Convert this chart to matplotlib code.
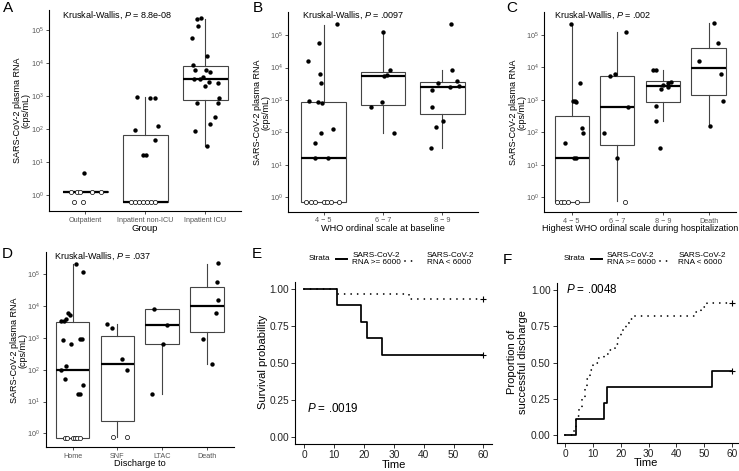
import numpy as np
import matplotlib
matplotlib.use('Agg')
import matplotlib.pyplot as plt
from matplotlib.lines import Line2D
from matplotlib.ticker import FixedLocator, NullLocator, LogFormatterSciNotation

plt.rcParams['font.family'] = ['Liberation Sans', 'DejaVu Sans']
plt.rcParams['mathtext.fontset'] = 'custom'
plt.rcParams['mathtext.rm'] = 'Liberation Sans'
plt.rcParams['mathtext.it'] = 'Liberation Sans:italic'
plt.rcParams['mathtext.bf'] = 'Liberation Sans:bold'

# ---------------- data (log10 cps/mL) ----------------
# panel A
a_cats = ['Outpatient', 'Inpatient non-ICU', 'Inpatient ICU']
a_q1 = [0.09, -0.20, 2.88]
a_med = [0.10, -0.20, 3.52]
a_q3 = [0.11, 1.82, 3.92]
a_lo = [0.09, -0.20, 1.50]
a_hi = [0.11, 2.96, 5.33]
a_grp = [0]*8 + [1]*15 + [2]*22
a_log = [0.10, 0.10, 0.10, 0.10, 0.10, -0.22, -0.22, 0.68,
         2.96, 2.93, 2.93, 1.97, 2.10, 1.67, 1.20, 1.20,
         -0.20, -0.20, -0.20, -0.20, -0.20, -0.20, -0.20,
         5.33, 5.35, 5.11, 4.76, 4.20, 3.93, 3.78, 3.80, 3.73, 3.51, 3.51,
         3.57, 3.31, 3.43, 3.39, 2.80, 2.95, 2.78, 2.35, 2.16, 1.95, 1.50]
a_und = [1, 1, 1, 1, 1, 1, 1, 0,
         0, 0, 0, 0, 0, 0, 0, 0,
         1, 1, 1, 1, 1, 1, 1] + [0]*22
a_jit = [-0.24, -0.13, -0.09, 0.11, 0.26, -0.18, -0.03, -0.02,
         -0.13, 0.09, 0.16, -0.17, 0.22, 0.16, -0.03, 0.01,
         -0.23, -0.17, -0.10, -0.03, 0.03, 0.10, 0.17,
         -0.13, -0.07, -0.12, -0.22, 0.04, -0.20, -0.16, 0.01, 0.09, -0.18, -0.09,
         -0.04, 0.00, 0.06, 0.22, -0.13, 0.24, 0.21, 0.17, 0.09, -0.16, 0.03]

# panel B
b_cats = ['4 \u2212 5', '6 \u2212 7', '8 \u2212 9']
b_q1 = [-0.15, 2.86, 2.58]
b_med = [1.20, 3.74, 3.39]
b_q3 = [2.95, 3.86, 3.56]
b_lo = [-0.15, 1.97, 1.51]
b_hi = [5.31, 5.10, 3.92]
b_grp = [0]*20 + [1]*7 + [2]*11
b_log = [5.33, 4.76, 4.21, 3.80, 3.53, 2.98, 2.94, 2.92, 2.11, 1.99, 1.68, 1.21, 1.21,
         -0.15, -0.15, -0.15, -0.15, -0.15, -0.15, -0.15,
         5.10, 3.93, 3.78, 3.73, 2.95, 2.79, 1.97,
         5.35, 3.92, 3.59, 3.52, 3.32, 3.41, 3.43, 2.80, 2.34, 2.18, 1.52]
b_und = [0]*13 + [1]*7 + [0]*7 + [0]*11
b_jit = [0.22, -0.08, -0.27, -0.06, -0.04, -0.24, -0.10, -0.03, 0.16, -0.05, -0.15, -0.14, 0.07,
         -0.30, -0.22, -0.14, 0.00, 0.06, 0.13, 0.26,
         0.00, 0.12, 0.06, 0.01, -0.02, -0.20, 0.18,
         0.14, 0.16, 0.25, -0.08, -0.18, 0.12, 0.28, -0.17, 0.01, -0.11, -0.20]

# panel C
c_cats = ['4 \u2212 5', '6 \u2212 7', '8 \u2212 9', 'Death']
c_q1 = [-0.15, 1.60, 2.93, 3.16]
c_med = [1.21, 2.79, 3.43, 3.99]
c_q3 = [2.51, 3.75, 3.57, 4.61]
c_lo = [-0.15, -0.13, 2.36, 2.18]
c_hi = [5.33, 5.10, 3.93, 5.36]
c_grp = [0]*15 + [1]*7 + [2]*10 + [3]*6
c_log = [5.33, 3.53, 2.97, 2.97, 2.93, 2.13, 1.99, 1.68, 1.21, 1.21,
         -0.15, -0.15, -0.15, -0.15, -0.15,
         5.10, 3.80, 3.74, 2.79, 1.97, 1.22, -0.15,
         3.93, 3.93, 3.56, 3.51, 3.45, 3.39, 3.32, 2.80, 2.35, 1.52,
         5.36, 4.76, 4.21, 3.81, 2.95, 2.18]
c_und = [0]*10 + [1]*5 + [0]*6 + [1] + [0]*16
c_jit = [-0.01, 0.19, 0.02, 0.07, 0.09, 0.22, 0.24, -0.15, 0.04, 0.09,
         -0.32, -0.24, -0.16, -0.07, 0.11,
         0.19, -0.06, -0.15, 0.23, -0.30, -0.01, 0.17,
         -0.21, -0.16, 0.17, 0.12, 0.00, 0.11, -0.04, -0.15, -0.15, -0.07,
         0.12, 0.20, -0.20, 0.27, 0.32, 0.02]

# panel D
d_cats = ['Home', 'SNF', 'LTAC', 'Death']
d_q1 = [-0.16, 0.39, 2.81, 3.17]
d_med = [2.00, 2.17, 3.40, 4.00]
d_q3 = [3.51, 3.07, 3.91, 4.61]
d_lo = [-0.16, -0.13, 1.23, 2.17]
d_hi = [5.31, 3.44, 3.92, 5.31]
d_grp = [0]*23 + [1]*6 + [2]*4 + [3]*6
d_log = [5.31, 5.08, 3.78, 3.72, 3.53, 3.53, 3.58, 2.92, 2.81, 2.98, 2.96, 2.13, 1.99,
         1.70, 1.52, 1.23, 1.23,
         -0.16, -0.16, -0.16, -0.16, -0.16, -0.16,
         3.44, 3.30, 2.35, 1.98, -0.13, -0.13,
         3.92, 3.40, 2.82, 1.23,
         5.34, 4.77, 4.19, 3.79, 2.96, 2.17]
d_und = [0]*17 + [1]*6 + [0]*4 + [1]*2 + [0]*10
d_jit = [0.08, 0.23, -0.10, -0.05, -0.25, -0.19, -0.14, -0.21, -0.04, 0.16, 0.22, -0.15, -0.26,
         -0.18, 0.23, 0.12, 0.17,
         -0.18, -0.12, 0.01, 0.06, 0.10, 0.16,
         -0.24, -0.13, 0.11, 0.22, -0.11, 0.22,
         -0.18, 0.10, 0.02, -0.24,
         0.24, 0.22, 0.25, 0.19, -0.09, 0.11]

# panel E: survival
e_hi_t = [0, 11, 19, 21, 26, 60]
e_hi_s = [1.0, 0.889, 0.778, 0.667, 0.556, 0.556]
e_lo_t = [0, 11, 35, 60]
e_lo_s = [1.0, 0.968, 0.935, 0.935]

# panel F: discharge
f_hi_t = [0, 4, 14, 15, 53, 60]
f_hi_s = [0.0, 0.111, 0.222, 0.333, 0.444, 0.444]
f_lo_t = [0, 3, 4, 5, 6, 7, 8, 9, 10, 12, 14, 16, 18, 19, 20, 21, 22, 23, 24, 47, 49, 51, 60]
f_lo_s = [0.0, 0.03, 0.13, 0.19, 0.26, 0.32, 0.39, 0.45, 0.50, 0.53, 0.56, 0.59, 0.63, 0.67,
          0.71, 0.74, 0.77, 0.80, 0.82, 0.85, 0.88, 0.91, 0.91]

# ---------------- layout helpers ----------------
W, H = 739, 471
fig = plt.figure(figsize=(W/100, H/100), dpi=100, facecolor='w')
DOTS = (0, (0.01, 3.6))


def add_ax(l, t, r, b):
    return fig.add_axes([l/W, 1 - b/H, (r - l)/W, (b - t)/H])


def ftext(x, y, s, **kw):
    kw.setdefault('ha', 'center')
    kw.setdefault('va', 'center')
    fig.text(x/W, 1 - y/H, s, **kw)


def style_axes(ax):
    for side in ['top', 'right']:
        ax.spines[side].set_visible(False)
    for side in ['left', 'bottom']:
        ax.spines[side].set_linewidth(0.8)
        ax.spines[side].set_color('black')


def box_panel(ax, cats, q1, med, q3, lo, hi, grp, logv, und, jit, ylim):
    stats = []
    for i in range(len(cats)):
        stats.append(dict(whislo=10**lo[i], q1=10**q1[i], med=10**med[i],
                          q3=10**q3[i], whishi=10**hi[i], fliers=[]))
    pos = np.arange(1, len(cats) + 1)
    ax.set_yscale('log')
    ax.bxp(stats, positions=pos, widths=0.75, showfliers=False, showcaps=False,
           patch_artist=True,
           boxprops=dict(facecolor='white', edgecolor='#444444', linewidth=0.8),
           whiskerprops=dict(color='#444444', linewidth=0.8),
           medianprops=dict(color='black', linewidth=1.6))
    x = np.array(grp) + 1 + np.array(jit)
    y = 10.0**np.array(logv)
    u = np.array(und, bool)
    ax.scatter(x[~u], y[~u], s=10, color='black', linewidths=0, zorder=3)
    ax.scatter(x[u], y[u], s=9, facecolor='white', edgecolor='black',
               linewidths=0.5, zorder=3)
    ax.set_xlim(0.4, len(cats) + 0.6)
    ax.set_ylim(10**ylim[0], 10**ylim[1])
    ax.yaxis.set_major_locator(FixedLocator([1, 10, 100, 1e3, 1e4, 1e5]))
    ax.yaxis.set_major_formatter(LogFormatterSciNotation())
    ax.yaxis.set_minor_locator(NullLocator())
    ax.set_xticks(pos)
    ax.set_xticklabels(cats)
    ax.tick_params(axis='both', length=2.5, width=0.6, color='#333333',
                   labelsize=5.2, labelcolor='#555555', pad=1.5)
    style_axes(ax)


def km_panel(ax, t1, s1, t2, s2):
    ax.step(t1, s1, where='post', color='black', lw=1.25, zorder=3)
    ax.step(t2, s2, where='post', color='black', lw=1.3, linestyle=DOTS,
            dash_capstyle='round', zorder=2)
    ax.plot([t1[-1]], [s1[-1]], marker='+', color='black', ms=5, mew=0.8)
    ax.plot([t2[-1]], [s2[-1]], marker='+', color='black', ms=5, mew=0.8)
    ax.set_xlim(-3, 63)
    ax.set_ylim(-0.05, 1.05)
    ax.set_xticks([0, 10, 20, 30, 40, 50, 60])
    ax.set_yticks([0, 0.25, 0.5, 0.75, 1.0])
    ax.set_yticklabels(['0.00', '0.25', '0.50', '0.75', '1.00'])
    ax.tick_params(axis='both', length=3, width=0.7, color='#333333',
                   labelsize=7.3, labelcolor='#222222', pad=1.5)
    style_axes(ax)


def strata_legend(x_strata, x_key1, x_lab1, x_key2, x_lab2, y0):
    ftext(x_strata, y0, 'Strata', fontsize=5.8)
    fig.add_artist(Line2D([x_key1/W, (x_key1 + 11)/W], [1 - y0/H]*2, color='black', lw=1.4))
    ftext(x_lab1, y0, 'SARS-CoV-2\nRNA >= 6000', fontsize=5.9, ha='left', linespacing=0.97)
    fig.add_artist(Line2D([x_key2/W, (x_key2 + 11)/W], [1 - (y0 + 1.5)/H]*2, color='black',
                          lw=1.3, linestyle=DOTS, dash_capstyle='round'))
    ftext(x_lab2, y0, 'SARS-CoV-2\nRNA < 6000', fontsize=5.9, ha='left', linespacing=0.97)


ylab = 'SARS-CoV-2 plasma RNA\n(cps/mL)'

# ---------------- A ----------------
ax = add_ax(49, 10, 241, 211)
box_panel(ax, a_cats, a_q1, a_med, a_q3, a_lo, a_hi, a_grp, a_log, a_und, a_jit, (-0.48, 5.6))
ftext(62, 15.5, r'Kruskal-Wallis, $\mathit{P}$ = 8.8e-08', fontsize=6.5, ha='left')
ftext(22, 110, ylab, fontsize=6.5, rotation=90, linespacing=0.95)
ftext(145, 228.5, 'Group', fontsize=6.8)
ftext(8, 8.5, 'A', fontsize=11)

# ---------------- B ----------------
ax = add_ax(288, 11.7, 478, 211.7)
box_panel(ax, b_cats, b_q1, b_med, b_q3, b_lo, b_hi, b_grp, b_log, b_und, b_jit, (-0.44, 5.72))
ftext(302.5, 15.5, r'Kruskal-Wallis, $\mathit{P}$ = .0097', fontsize=6.5, ha='left')
ftext(262, 112, ylab, fontsize=6.5, rotation=90, linespacing=0.95)
ftext(383, 228.5, 'WHO ordinal scale at baseline', fontsize=6.6)
ftext(257.5, 8.5, 'B', fontsize=11)

# ---------------- C ----------------
ax = add_ax(544.3, 11.7, 736, 212)
box_panel(ax, c_cats, c_q1, c_med, c_q3, c_lo, c_hi, c_grp, c_log, c_und, c_jit, (-0.46, 5.72))
ftext(553.5, 15.5, r'Kruskal-Wallis, $\mathit{P}$ = .002', fontsize=6.5, ha='left')
ftext(518, 112, ylab, fontsize=6.5, rotation=90, linespacing=0.95)
ftext(640, 228.5, 'Highest WHO ordinal scale during hospitalization', fontsize=6.5)
ftext(512, 8.5, 'C', fontsize=11)

# ---------------- D ----------------
ax = add_ax(45.7, 251.7, 234, 447)
box_panel(ax, d_cats, d_q1, d_med, d_q3, d_lo, d_hi, d_grp, d_log, d_und, d_jit, (-0.43, 5.71))
ftext(54, 256, r'Kruskal-Wallis, $\mathit{P}$ = .037', fontsize=6.5, ha='left')
ftext(19, 350, ylab, fontsize=6.5, rotation=90, linespacing=0.95)
ftext(140, 464, 'Discharge to', fontsize=6.6)
ftext(7.5, 253.5, 'D', fontsize=11)

# ---------------- E ----------------
ax = add_ax(295.4, 281.6, 492.3, 444)
km_panel(ax, e_hi_t, e_hi_s, e_lo_t, e_lo_s)
ax.text(0.8, 0.19, r'$\mathit{P}$ = .0019', fontsize=8.4, ha='left', va='center')
ftext(263.5, 362, 'Survival probability', fontsize=8, rotation=90)
ftext(393.5, 464.5, 'Time', fontsize=8)
ftext(257, 253.5, 'E', fontsize=11)
strata_legend(319, 336, 352.3, 405, 426.7, 259)

# ---------------- F ----------------
ax = add_ax(556.7, 282.7, 740.3, 442.5)
km_panel(ax, f_hi_t, f_hi_s, f_lo_t, f_lo_s)
ax.text(0.4, 1.0, r'$\mathit{P}$ = .0048', fontsize=8.4, ha='left', va='center')
ftext(517.5, 362, 'Proportion of\nsuccessful discharge', fontsize=8, rotation=90,
      linespacing=1.05)
ftext(646, 463, 'Time', fontsize=8)
ftext(507.5, 260, 'F', fontsize=11)
strata_legend(574.7, 590.7, 606.7, 660, 678.3, 259)

plt.savefig('out.png', dpi=100, facecolor='w')
